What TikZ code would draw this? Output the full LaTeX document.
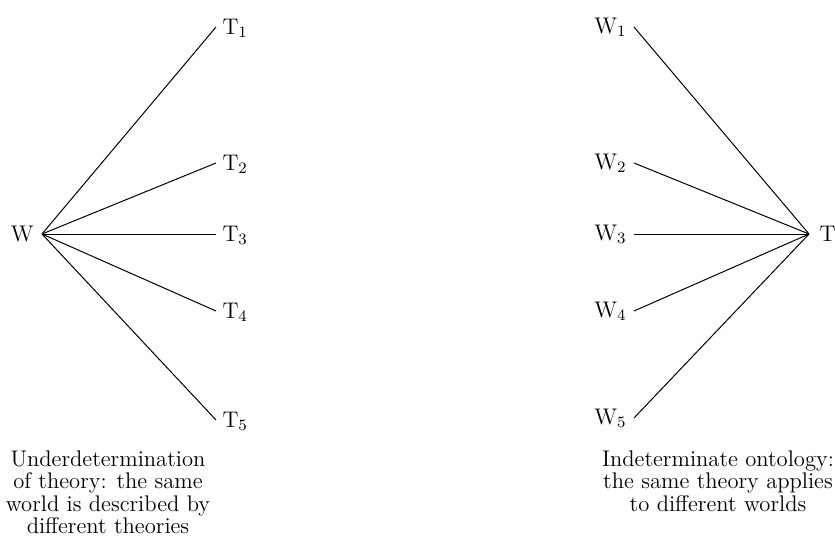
\documentclass[tikz,border=0pt]{standalone}
\begin{document}
\begin{tikzpicture}[x=0.5pt,y=-0.5pt,line width=0.5pt,
  lab/.style={inner sep=0pt,font=\fontsize{11.3}{13}\selectfont},
  caption/.style={inner sep=0pt,align=center,font=\fontsize{11.3}{11.3}\selectfont}]
\useasboundingbox (0,0) rectangle (835,542);
% left fan: one world, many theories
\coordinate (w) at (42,234);
\node[lab,anchor=base east] (wl) at (34,241) {W};
\foreach \i/\y in {1/27,2/163,3/234,4/311,5/420}{
  \coordinate (t\i) at (216,\y);
  \node[lab,anchor=base west] (tl\i) at (222,\y+7) {T\textsubscript{\i}};
  \draw (w) -- (t\i);
}
\node[caption,anchor=north] (capl) at (108,450)
  {Underdetermination\\of theory: the same\\world is described by\\different theories};
% right fan: many worlds, one theory
\coordinate (t) at (809,234);
\node[lab,anchor=base west] (tl) at (819,241) {T};
\foreach \i/\y in {1/27,2/163,3/234,4/311,5/418}{
  \coordinate (w\i) at (634,\y);
  \node[lab,anchor=base east] (wl\i) at (627,\y+6) {W\textsubscript{\i}};
  \draw (w\i) -- (t);
}
\node[caption,anchor=north] (capr) at (718,450)
  {Indeterminate ontology:\\the same theory applies\\to different worlds};
\end{tikzpicture}
\end{document}
